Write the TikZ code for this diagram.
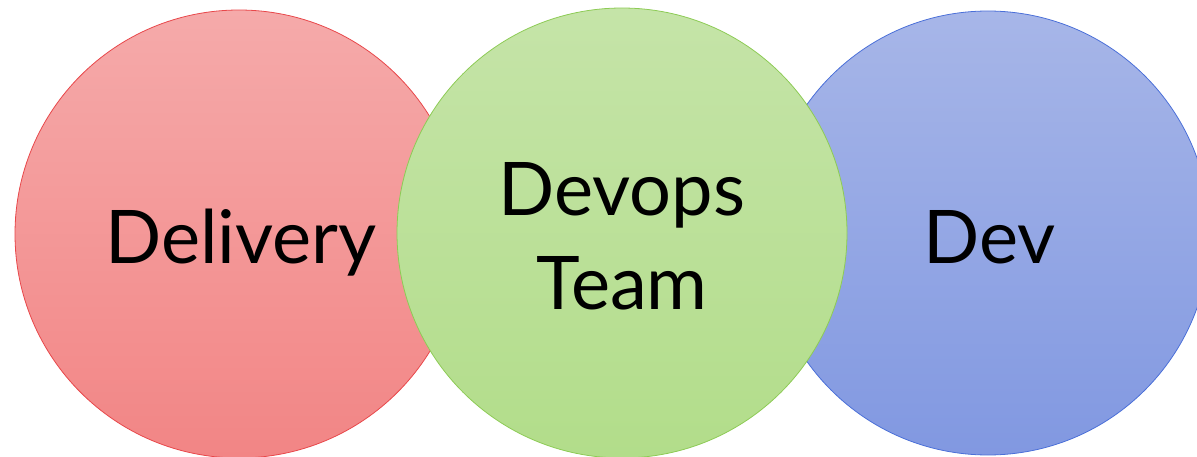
\documentclass[tikz,border=0pt]{standalone}
\usepackage{fontspec}
\setmainfont{Lato}
\definecolor{redtop}{HTML}{F5AAAA}
\definecolor{redbot}{HTML}{F28585}
\definecolor{redline}{HTML}{E8474A}
\definecolor{greentop}{HTML}{C5E4A8}
\definecolor{greenbot}{HTML}{B2DD8A}
\definecolor{greenline}{HTML}{8DCB55}
\definecolor{bluetop}{HTML}{A7B6E8}
\definecolor{bluebot}{HTML}{8198E1}
\definecolor{blueline}{HTML}{4A6FD8}
\tikzset{
  ring/.style={circle, inner sep=0pt, minimum size=#1, line width=0.8pt},
  lbl/.style={inner sep=0pt, anchor=base, text=black, align=center,
    font=\fontsize{74}{94}\selectfont}
}
\begin{document}
\begin{tikzpicture}[x=1pt,y=-1pt]
\useasboundingbox (0,0) rectangle (1197,457);
\begin{scope}
\clip (0,0) rectangle (1197,457);
\node[ring=448pt, draw=redline, top color=redtop, bottom color=redbot] (red) at (239,234) {};
\node[ring=444pt, draw=blueline, top color=bluetop, bottom color=bluebot] (blue) at (988,233) {};
\node[ring=450pt, draw=greenline, top color=greentop, bottom color=greenbot] (green) at (622,233) {};
\end{scope}
\node[lbl] (tdel) at (241,264) {Delivery};
\node[lbl] (tdevops) at (622,309) {Devops\\Team};
\node[lbl] (tdev) at (990,264) {Dev};
\end{tikzpicture}
\end{document}
